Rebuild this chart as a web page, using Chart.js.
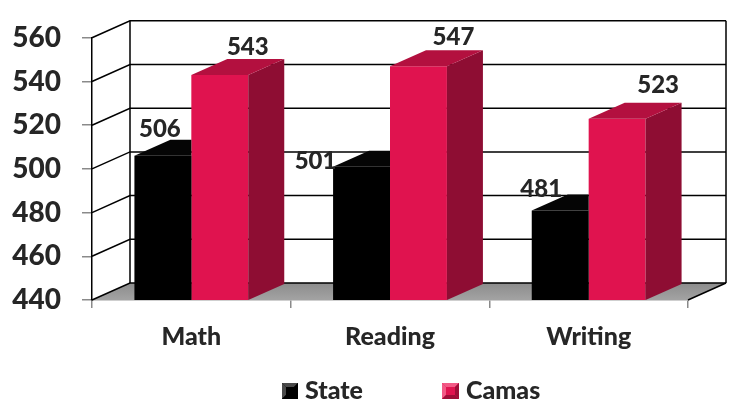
<!DOCTYPE html>
<html><head><meta charset="utf-8">
<script src="https://cdn.jsdelivr.net/npm/chart.js@4/dist/chart.umd.min.js"></script>
<style>html,body{margin:0;padding:0;background:#fff;}#wrap{width:733px;height:404px;}</style>
</head><body><div id="wrap"><canvas id="c" width="733" height="404"></canvas></div>
<script>
const categories = ['Math', 'Reading', 'Writing'];
const seriesNames = ['State', 'Camas'];
const stateScores = [506, 501, 481];
const camasScores = [543, 547, 523];
const yTickValues = [440, 460, 480, 500, 520, 540, 560];

const TEXT = '#262626';
const FONT_WEIGHT = '900';
const DEPTH = {dx: 38, dy: -17};
const BAR_DEPTH = {dx: 36, dy: -16};
const faceColors = [
  {front: '#000000', top: '#050505', side: '#030303', legend: ['#000000', '#4a4a4a', '#000000']},
  {front: '#E0134F', top: '#B3103F', side: '#8E0D33', legend: ['#E0134F', '#F25A86', '#9E0E38']}
];
// label offsets (style): [dx, baselineDy] relative to bar front-centre / top
const labelOffsets = [
  [[-3, -19], [-46, 2], [-19, -13]],
  [[28, -20], [35, -21], [41, -26]]
];

function poly(ctx, pts, fill) {
  ctx.beginPath();
  ctx.moveTo(pts[0][0], pts[0][1]);
  for (let k = 1; k < pts.length; k++) ctx.lineTo(pts[k][0], pts[k][1]);
  ctx.closePath();
  ctx.fillStyle = fill;
  ctx.fill();
}

const wallPlugin = {
  id: 'wall3d',
  beforeDatasetsDraw(chart) {
    const {ctx, chartArea: a, scales: {y}} = chart;
    const dx = DEPTH.dx, dy = DEPTH.dy;
    const yb = y.getPixelForValue(y.min);
    const yt = y.getPixelForValue(y.max);
    ctx.save();
    const g = ctx.createLinearGradient(0, yb + dy, 0, yb);
    g.addColorStop(0, '#8c8c8c');
    g.addColorStop(1, '#a3a3a3');
    poly(ctx, [[a.left, yb], [a.right, yb], [a.right + dx, yb + dy], [a.left + dx, yb + dy]], g);
    ctx.strokeStyle = '#000';
    ctx.lineWidth = 1.5;
    y.ticks.forEach(t => {
      const py = y.getPixelForValue(t.value);
      ctx.beginPath();
      ctx.moveTo(a.left, py);
      ctx.lineTo(a.left + dx, py + dy);
      ctx.lineTo(a.right + dx, py + dy);
      ctx.stroke();
    });
    ctx.beginPath();
    ctx.moveTo(a.left + dx, yt + dy); ctx.lineTo(a.left + dx, yb + dy);
    ctx.moveTo(a.right + dx, yt + dy); ctx.lineTo(a.right + dx, yb + dy);
    ctx.moveTo(a.right, yb); ctx.lineTo(a.right + dx, yb + dy);
    ctx.stroke();
    ctx.restore();
  }
};

const barsPlugin = {
  id: 'bars3d',
  afterDatasetsDraw(chart) {
    const ctx = chart.ctx;
    const a = chart.chartArea;
    const dx = BAR_DEPTH.dx, dy = BAR_DEPTH.dy;
    const rects = [];
    chart.data.datasets.forEach((ds, i) => {
      chart.getDatasetMeta(i).data.forEach((el, j) => {
        const p = el.getProps(['x', 'y', 'base', 'width'], true);
        const bottom = Math.min(p.base, a.bottom);
        rects.push({i, j, l: p.x - p.width / 2, r: p.x + p.width / 2, t: p.y, b: bottom});
      });
    });
    rects.forEach(R => {
      ctx.save();
      ctx.beginPath();
      ctx.rect(0, 0, chart.width, chart.height);
      rects.forEach(S => { if (S !== R) ctx.rect(S.l, S.t, S.r - S.l, S.b - S.t); });
      ctx.clip('evenodd');
      const f = faceColors[R.i];
      poly(ctx, [[R.r, R.t], [R.r + dx, R.t + dy], [R.r + dx, R.b + dy], [R.r, R.b]], f.side);
      poly(ctx, [[R.l, R.t], [R.l + dx, R.t + dy], [R.r + dx, R.t + dy], [R.r, R.t]], f.top);
      ctx.restore();
    });
  }
};

const labelPlugin = {
  id: 'valueLabels',
  afterDraw(chart) {
    const ctx = chart.ctx;
    ctx.save();
    ctx.font = FONT_WEIGHT + ' 24px Lato';
    ctx.fillStyle = TEXT;
    ctx.textAlign = 'center';
    ctx.textBaseline = 'alphabetic';
    chart.data.datasets.forEach((ds, i) => {
      chart.getDatasetMeta(i).data.forEach((el, j) => {
        const p = el.getProps(['x', 'y'], true);
        const off = labelOffsets[i][j];
        ctx.fillText(String(ds.data[j]), p.x + off[0], p.y + off[1]);
      });
    });
    ctx.restore();
  }
};

const legendPlugin = {
  id: 'bevelLegend',
  afterDraw(chart) {
    const ctx = chart.ctx;
    const items = [{x: 282, w: 16}, {x: 442, w: 17}];
    const top = 383, h = 16;
    ctx.save();
    ctx.font = FONT_WEIGHT + ' 25px Lato';
    ctx.textBaseline = 'alphabetic';
    ctx.textAlign = 'left';
    chart.data.datasets.forEach((ds, i) => {
      const it = items[i];
      const [base, light, dark] = faceColors[i].legend;
      const x = it.x, w = it.w, b = 4;
      ctx.fillStyle = base;
      ctx.fillRect(x, top, w, h);
      poly(ctx, [[x, top], [x + w, top], [x + w - b, top + b], [x + b, top + b]], light);
      poly(ctx, [[x, top], [x + b, top + b], [x + b, top + h - b], [x, top + h]], light);
      poly(ctx, [[x, top + h], [x + b, top + h - b], [x + w - b, top + h - b], [x + w, top + h]], dark);
      poly(ctx, [[x + w, top], [x + w, top + h], [x + w - b, top + h - b], [x + w - b, top + b]], dark);
      ctx.fillStyle = base;
      ctx.fillRect(x + b, top + b, w - 2 * b, h - 2 * b);
      ctx.fillStyle = TEXT;
      ctx.fillText(ds.label, x + w + 7, 399);
    });
    ctx.restore();
  }
};

Chart.defaults.font.family = 'Lato';

new Chart(document.getElementById('c'), {
  type: 'bar',
  data: {
    labels: categories,
    datasets: [
      {label: seriesNames[0], data: stateScores, backgroundColor: faceColors[0].front, borderWidth: 0},
      {label: seriesNames[1], data: camasScores, backgroundColor: faceColors[1].front, borderWidth: 0}
    ]
  },
  options: {
    responsive: false,
    animation: false,
    events: [],
    layout: {padding: {top: 25, right: 45, bottom: 50, left: 0}},
    datasets: {bar: {categoryPercentage: 0.573, barPercentage: 1.0}},
    plugins: {legend: {display: false}, tooltip: {enabled: false}},
    scales: {
      x: {
        afterFit(s) { s.height = 54; },
        grid: {display: true, offset: true, drawOnChartArea: false, drawTicks: true, tickLength: 8, tickColor: '#8a8a8a', lineWidth: 1.5},
        border: {display: true, color: '#a0a0a0', width: 1.5},
        ticks: {color: TEXT, font: {family: 'Lato', size: 25, weight: FONT_WEIGHT}, padding: 14, maxRotation: 0}
      },
      y: {
        min: 440, max: 560,
        afterFit(s) { s.width = 92; },
        afterBuildTicks(s) { s.ticks = yTickValues.map(v => ({value: v})); },
        grid: {display: true, drawOnChartArea: false, drawTicks: true, tickLength: 10, tickColor: '#8a8a8a', lineWidth: 1.5},
        border: {display: true, color: '#000', width: 1.5},
        ticks: {color: TEXT, font: {family: 'Lato', size: 28, weight: FONT_WEIGHT}, padding: 21}
      }
    }
  },
  plugins: [wallPlugin, barsPlugin, labelPlugin, legendPlugin]
});
</script>
</body></html>
